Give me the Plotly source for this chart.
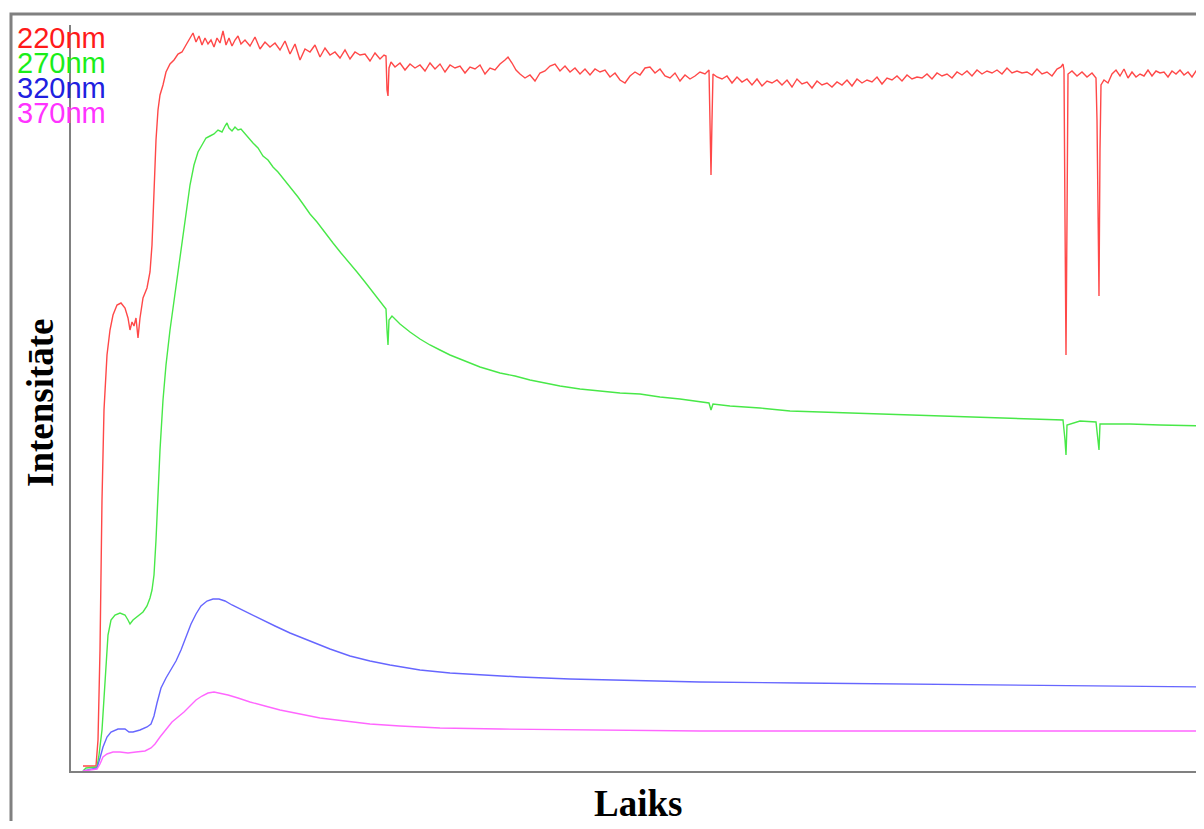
import plotly.graph_objects as go

# ---- data (Laiks, Intensitāte) ----
laiks_220 = [12, 25, 27, 29, 31, 33, 36, 39, 42, 46, 50, 54, 57, 59, 61, 63, 65, 67, 69, 72, 76, 79, 81, 83, 85, 87, 89, 92, 95, 99,
             103, 107, 111, 115, 119, 122, 125, 128, 131, 134, 137, 140, 143, 146, 149, 152, 155, 158, 161, 164, 167, 170,
             174, 179, 184, 189, 194, 199, 204, 209, 214, 219, 224, 229, 234, 239, 244, 249, 254, 259, 264, 269, 274, 279,
             284, 289, 294, 299, 304, 309, 313, 315, 316, 317, 318, 320, 324, 329, 334, 339, 344, 349, 354, 359, 364, 369,
             374, 379, 384, 389, 394, 399, 404, 409, 414, 419, 424, 429, 434, 437, 441, 445, 449, 454, 459, 464, 469, 474,
             479, 484, 489, 494, 499, 504, 509, 514, 519, 524, 529, 534, 539, 544, 549, 554, 559, 564, 569, 574, 579, 584,
             589, 594, 599, 604, 609, 614, 619, 624, 629, 634, 638, 639, 640, 641, 642, 646, 651, 656, 661, 666, 671, 676,
             681, 686, 691, 696, 701, 706, 711, 716, 721, 726, 731, 736, 741, 746, 751, 756, 761, 766, 771, 776, 781, 786,
             791, 796, 801, 806, 811, 816, 821, 826, 831, 836, 841, 846, 851, 856, 861, 866, 871, 876, 881, 886, 891, 896,
             901, 906, 911, 916, 921, 926, 931, 936, 941, 946, 951, 956, 961, 966, 971, 976, 981, 986, 990, 992, 993, 994,
             995, 996, 997, 1001, 1006, 1011, 1016, 1021, 1025, 1026, 1027, 1028, 1029, 1030, 1033, 1037, 1041, 1045, 1049,
             1053, 1057, 1061, 1065, 1069, 1073, 1077, 1081, 1085, 1089, 1093, 1097, 1101, 1105, 1109, 1113, 1117, 1121,
             1125, 1129, 1133]
int_220 = [5, 5, 31, 121, 271, 361, 416, 441, 456, 466, 468, 463, 453, 441, 449, 445, 453, 433, 453, 473, 483, 499, 526, 581, 631,
           661, 676, 686, 699, 707, 711, 717, 719, 726, 733, 738, 729, 735, 726, 733, 727, 731, 724, 733, 728, 740, 726, 733,
           725, 731, 735, 727, 731, 725, 734, 722, 729, 724, 728, 721, 730, 717, 727, 711, 722, 719, 726, 714, 723, 716, 719,
           713, 721, 712, 719, 716, 717, 710, 718, 712, 716, 715, 681, 675, 703, 709, 704, 708, 701, 707, 703, 706, 700, 708,
           702, 707, 699, 706, 703, 705, 698, 704, 702, 706, 697, 703, 701, 707, 711, 714, 708, 701, 697, 693, 696, 690, 698,
           700, 705, 707, 700, 705, 699, 703, 697, 702, 696, 702, 699, 701, 694, 698, 691, 688, 695, 699, 696, 703, 704, 698,
           702, 695, 693, 698, 690, 696, 692, 695, 699, 697, 701, 661, 596, 651, 697, 694, 692, 695, 688, 694, 689, 692, 686,
           692, 685, 690, 688, 691, 686, 691, 684, 692, 687, 689, 683, 690, 686, 688, 684, 689, 686, 691, 685, 692, 688, 691,
           689, 694, 687, 693, 691, 695, 690, 696, 692, 694, 693, 697, 692, 698, 695, 697, 693, 699, 696, 700, 695, 701, 697,
           700, 698, 701, 697, 703, 698, 700, 698, 699, 696, 702, 697, 699, 695, 702, 704, 707, 701, 551, 416, 551, 697, 700,
           695, 699, 694, 698, 693, 651, 581, 475, 621, 686, 691, 688, 697, 701, 695, 702, 693, 699, 694, 697, 695, 701, 695,
           700, 698, 699, 694, 700, 697, 701, 696, 699, 694, 700, 697, 698]

laiks_270 = [12, 15, 26, 28, 31, 34, 37, 40, 44, 49, 54, 57, 59, 62, 67, 72, 76, 79, 81, 83, 85, 87, 89, 92, 95, 99, 103, 107,
             111, 115, 119, 123, 127, 131, 135, 139, 143, 147, 151, 154, 156, 158, 161, 164, 167, 170, 174, 178, 182, 187,
             192, 197, 202, 207, 212, 217, 222, 227, 232, 239, 246, 254, 262, 270, 278, 286, 294, 302, 310, 315, 316, 317,
             318, 321, 329, 339, 349, 359, 369, 379, 389, 399, 409, 419, 429, 444, 459, 474, 489, 509, 529, 549, 569, 589,
             609, 629, 638, 640, 642, 659, 689, 719, 749, 779, 809, 839, 869, 899, 929, 959, 992, 994, 995, 996, 1009, 1025,
             1027, 1028, 1029, 1059, 1089, 1133]
int_270 = [0, 3, 4, 16, 41, 91, 136, 151, 156, 158, 156, 151, 147, 151, 155, 159, 165, 173, 181, 196, 231, 281, 321, 371, 406,
           441, 471, 501, 531, 561, 586, 606, 619, 626, 633, 635, 637, 641, 639, 645, 648, 643, 640, 644, 641, 642, 637, 633,
           628, 623, 615, 611, 604, 599, 593, 587, 581, 574, 567, 557, 549, 538, 528, 518, 509, 499, 489, 479, 469, 462, 441,
           426, 451, 455, 447, 439, 432, 426, 421, 416, 412, 408, 404, 401, 398, 395, 391, 388, 385, 382, 380, 378, 377, 374,
           372, 369, 368, 361, 367, 365, 363, 360, 359, 358, 357, 356, 355, 354, 353, 352, 351, 331, 316, 346, 350, 349, 331,
           321, 347, 347, 346, 345]

laiks_320 = [12, 26, 29, 32, 36, 40, 47, 54, 58, 62, 69, 76, 80, 83, 86, 90, 95, 100, 105, 110, 115, 120, 125, 130, 136, 142,
             148, 154, 161, 169, 179, 189, 204, 219, 239, 259, 279, 299, 319, 349, 379, 409, 449, 499, 549, 629, 729, 829, 929,
             1029, 1133]
int_320 = [0, 3, 13, 24, 34, 39, 42, 42, 39, 39, 41, 44, 47, 55, 68, 83, 93, 101, 110, 121, 135, 147, 157, 165, 170, 172, 172,
           170, 166, 162, 157, 152, 145, 138, 130, 122, 115, 110, 106, 101, 98, 96, 94, 92, 91, 89, 88, 87, 86, 85, 84]

laiks_370 = [12, 26, 29, 32, 36, 42, 49, 57, 65, 74, 80, 84, 89, 95, 101, 107, 113, 119, 125, 131, 137, 143, 149, 157, 167, 179,
             194, 209, 229, 249, 274, 299, 329, 369, 429, 529, 629, 779, 929, 1133]
int_370 = [0, 2, 7, 14, 17, 19, 19, 18, 19, 20, 23, 27, 34, 42, 49, 54, 59, 65, 71, 75, 78, 79, 78, 76, 73, 69, 65, 61, 57, 53,
           50, 47, 45, 43, 42, 41, 40, 40, 40, 40]

series_names = ["220nm", "270nm", "320nm", "370nm"]
line_colors = ["#ff4848", "#48e848", "#6666ff", "#ff66ff"]
label_colors = ["#ff1a1a", "#1aee1a", "#2020e0", "#ff33ff"]

series = [(laiks_220, int_220), (laiks_270, int_270), (laiks_320, int_320), (laiks_370, int_370)]

fig = go.Figure()
for (x, y), name, col in zip(series, series_names, line_colors):
    fig.add_trace(go.Scatter(x=x, y=y, mode="lines", name=name,
                             line=dict(color=col, width=1.4), hoverinfo="skip"))

# page body has an 8px default margin, so the figure starts at (8, 8)
OFF = 8
W, H = 1204 - OFF, 829 - 2 * OFF
ML, MT = 71 - OFF, 25 - OFF
MB = H + OFF - 771
PW, PH = W - ML, H - MT - MB

def px(v):
    return (v - OFF - ML) / PW

def py(v):
    return (H + OFF - MB - v) / PH

annotations = []
label_y = [38, 63, 88, 113]
for name, col, yy in zip(series_names, label_colors, label_y):
    annotations.append(dict(text=name, xref="paper", yref="paper", x=px(15), y=py(yy),
                            xanchor="left", yanchor="middle", showarrow=False,
                            font=dict(family="Liberation Sans, Arial", size=29, color=col)))
annotations.append(dict(text="<b>Intensitāte</b>", xref="paper", yref="paper", x=px(40), y=py(403),
                        xanchor="center", yanchor="middle", textangle=-90, showarrow=False,
                        font=dict(family="Liberation Serif, Times New Roman", size=37, color="#000")))
annotations.append(dict(text="<b>Laiks</b>", xref="paper", yref="paper", x=px(638), y=py(804),
                        xanchor="center", yanchor="middle", showarrow=False,
                        font=dict(family="Liberation Serif, Times New Roman", size=37, color="#000")))

fig.update_layout(
    width=W, height=H,
    margin=dict(l=ML, r=0, t=MT, b=MB, pad=0),
    paper_bgcolor="white", plot_bgcolor="white",
    showlegend=False,
    annotations=annotations,
    shapes=[dict(type="rect", xref="paper", yref="paper",
                 x0=px(11), x1=px(1260), y0=py(900), y1=py(14),
                 line=dict(color="#808080", width=3), layer="below")],
    xaxis=dict(range=[0, 1133], showgrid=False, zeroline=False, showticklabels=False, ticks="",
               showline=True, linecolor="#808080", linewidth=2),
    yaxis=dict(range=[0, 746], showgrid=False, zeroline=False, showticklabels=False, ticks="",
               showline=True, linecolor="#808080", linewidth=2),
)

fig.write_html("out.html")
